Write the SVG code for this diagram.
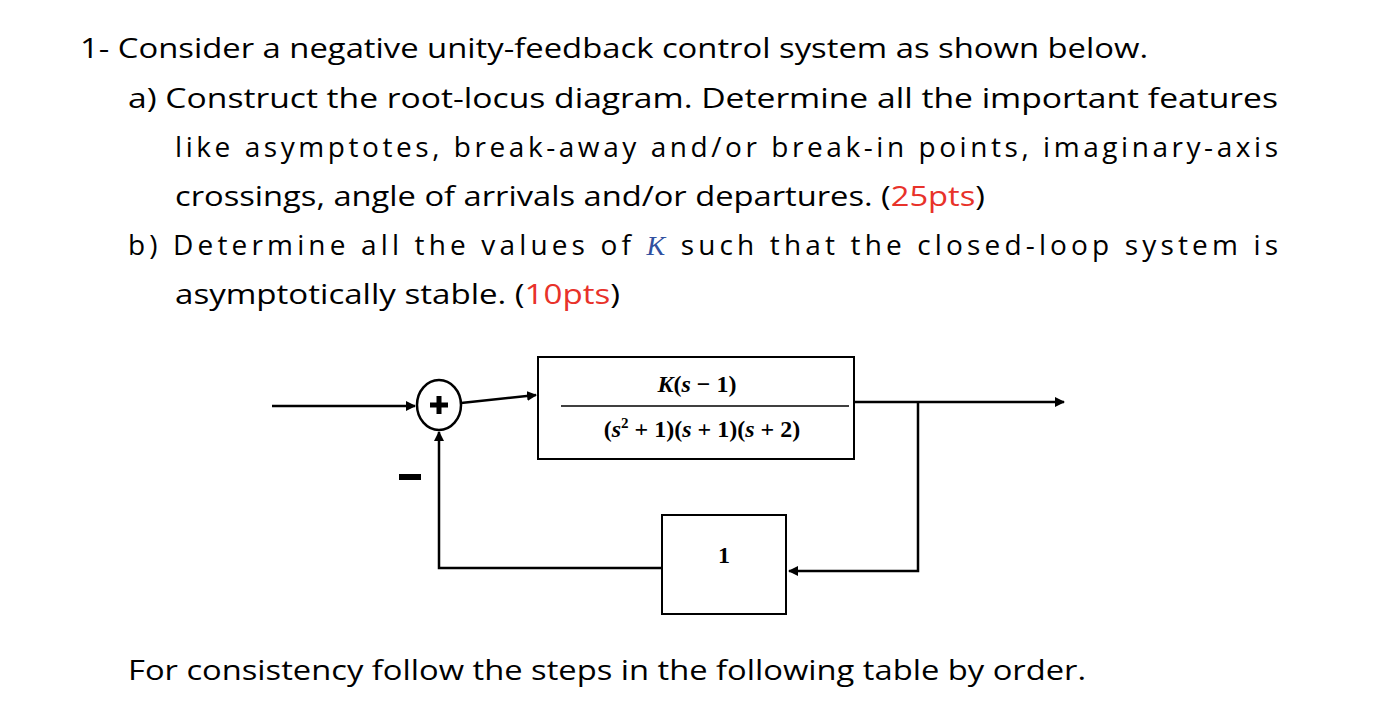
<svg xmlns="http://www.w3.org/2000/svg" width="1384" height="714" viewBox="0 0 1384 714">
<style>
.t{font-family:"Open Sans","Liberation Sans",sans-serif;font-size:28px;fill:#000}
.r{fill:#e8322a}
.m{font-family:"Liberation Serif",serif;font-weight:bold;font-size:24px}
.ln{stroke:#000;stroke-width:2.5;fill:none}
</style>
<defs><marker id="a" markerWidth="10" markerHeight="10" refX="9" refY="5" orient="auto" markerUnits="userSpaceOnUse"><path d="M0,0L10,5L0,10z"/></marker></defs>
<rect width="1384" height="714" fill="#fff"/>
<g id="text">
<text class="t" x="80" y="58" textLength="1068" lengthAdjust="spacingAndGlyphs">1-  Consider a negative unity-feedback control system as shown below.</text>
<text class="t" x="128" y="108" textLength="1150" lengthAdjust="spacingAndGlyphs">a)  Construct the root-locus diagram. Determine all the important features</text>
<text class="t" x="175" y="157" textLength="1103" lengthAdjust="spacing">like asymptotes, break-away and/or break-in points, imaginary-axis</text>
<text class="t" x="175" y="206" textLength="810" lengthAdjust="spacingAndGlyphs">crossings, angle of arrivals and/or departures. (<tspan class="r">25pts</tspan>)</text>
<text class="t" x="128" y="255" textLength="1150" lengthAdjust="spacing">b)  Determine all the values of <tspan font-family="Liberation Serif" font-style="italic" fill="#3050a0">K</tspan> such that the closed-loop system is</text>
<text class="t" x="175" y="304" textLength="445" lengthAdjust="spacingAndGlyphs">asymptotically stable. (<tspan class="r">10pts</tspan>)</text>
<text class="t" x="128" y="680" textLength="958" lengthAdjust="spacingAndGlyphs">For consistency follow the steps in the following table by order.</text>
</g>
<g id="sum"><ellipse cx="439" cy="405" rx="22" ry="25" fill="#fff" stroke="#000" stroke-width="2.5"/><path d="M439,396v18M430,405h18" stroke="#000" stroke-width="5"/></g>
<g id="minus"><rect x="399" y="474" width="22" height="6"/></g>
<g id="G"><rect x="538" y="357" width="316" height="102" fill="#fff" stroke="#000" stroke-width="2"/>
<text class="m" x="697" y="392" text-anchor="middle"><tspan font-style="italic">K</tspan>(<tspan font-style="italic">s</tspan> − 1)</text>
<line x1="561" y1="406" x2="849" y2="406" stroke="#000" stroke-width="1.5"/>
<text class="m" x="702" y="437" text-anchor="middle">(<tspan font-style="italic">s</tspan><tspan font-size="15" dy="-9">2</tspan><tspan dy="9"> + 1)(</tspan><tspan font-style="italic">s</tspan> + 1)(<tspan font-style="italic">s</tspan> + 2)</text></g>
<g id="H"><rect x="662" y="515" width="124" height="99" fill="#fff" stroke="#000" stroke-width="2"/><text class="m" x="724" y="563" text-anchor="middle">1</text></g>
<g id="connectors">
<line class="ln" x1="272" y1="406" x2="415" y2="406" marker-end="url(#a)"/>
<line class="ln" x1="461" y1="403" x2="536" y2="395" marker-end="url(#a)"/>
<line class="ln" x1="854" y1="402" x2="1064" y2="402" marker-end="url(#a)"/>
<polyline class="ln" points="918,402 918,571 789,571" marker-end="url(#a)"/>
<polyline class="ln" points="662,568 439,568 439,432" marker-end="url(#a)"/>
</g>
</svg>
